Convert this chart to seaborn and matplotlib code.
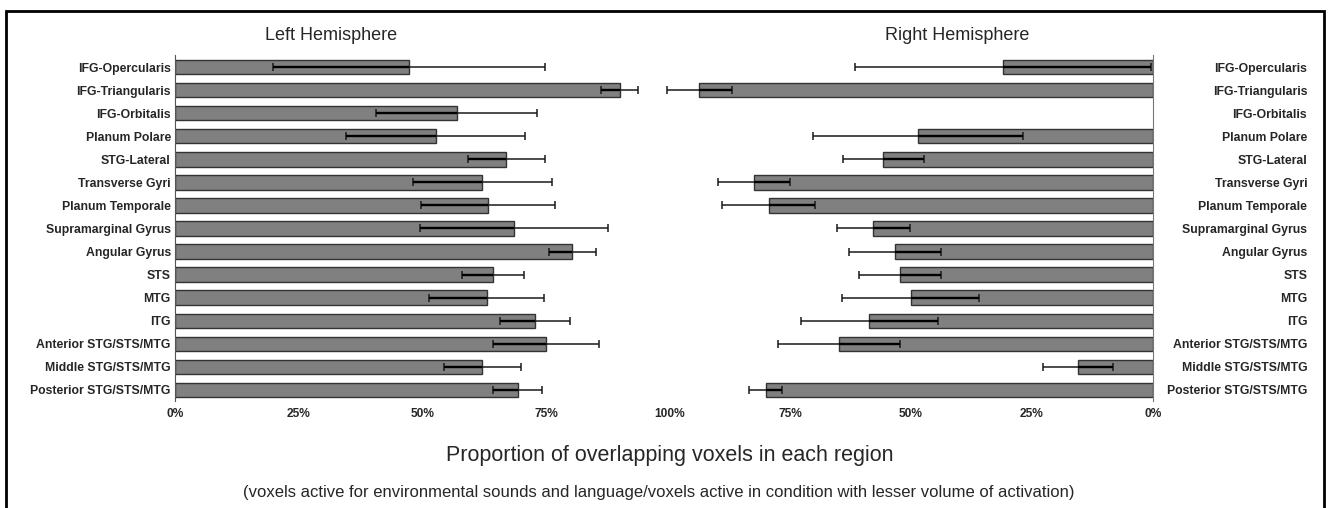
import numpy as np
import pandas as pd
import matplotlib
matplotlib.use('Agg')
import matplotlib.pyplot as plt
import seaborn as sns
from matplotlib.patches import Rectangle

sns.set_style("white")
plt.rcParams['font.family'] = ['Liberation Sans', 'DejaVu Sans']

# data (percent)
regions = ['IFG-Opercularis', 'IFG-Triangularis', 'IFG-Orbitalis', 'Planum Polare',
           'STG-Lateral', 'Transverse Gyri', 'Planum Temporale', 'Supramarginal Gyrus',
           'Angular Gyrus', 'STS', 'MTG', 'ITG', 'Anterior STG/STS/MTG',
           'Middle STG/STS/MTG', 'Posterior STG/STS/MTG']
left_mean = [47.3, 89.8, 56.9, 52.7, 66.9, 62.1, 63.2, 68.5, 80.3, 64.3, 63.0, 72.7, 74.9, 62.1, 69.2]
left_err = [27.5, 3.7, 16.2, 18.1, 7.8, 14.0, 13.5, 19.0, 4.7, 6.3, 11.6, 7.1, 10.7, 7.7, 5.0]
right_mean = [31.0, 93.7, np.nan, 48.6, 55.7, 82.4, 79.4, 57.8, 53.3, 52.3, 50.1, 58.6, 64.8, 15.5, 80.0]
right_err = [30.5, 6.7, np.nan, 21.7, 8.4, 7.5, 9.6, 7.5, 9.5, 8.4, 14.2, 14.1, 12.6, 7.2, 3.4]
ticks = [0, 25, 50, 75, 100]

df_left = pd.DataFrame({'region': regions, 'value': left_mean, 'err': left_err})
df_right = pd.DataFrame({'region': regions, 'value': right_mean, 'err': right_err})

W, H = 1328, 508
fig = plt.figure(figsize=(W / 100, H / 100), dpi=100)
bottom = 1 - 401.5 / H
height = (401.5 - 55.5) / H
ax_l = fig.add_axes([175 / W, bottom, (670 - 175) / W, height])
ax_r = fig.add_axes([669 / W, bottom, (1153 - 669) / W, height])

bar_kw = dict(color='#808080', edgecolor='#333333', linewidth=1.0, width=0.63,
              errorbar=None, order=regions, orient='h', saturation=1)


def draw(ax, df):
    sns.barplot(data=df, x='value', y='region', ax=ax, **bar_kw)
    pos = np.arange(len(regions))
    ok = df['value'].notna().values
    v = df['value'].values[ok]
    e = df['err'].values[ok]
    ax.errorbar(v, pos[ok], xerr=e, fmt='none', ecolor='#1a1a1a',
                elinewidth=1.1, capsize=3.2, capthick=1.1, clip_on=False)
    # darker part of the error bar inside the bar
    ax.hlines(pos[ok], v - e, v, color='black', lw=1.7, clip_on=False)
    ax.set_ylim(len(regions) - 0.5, -0.5)
    ax.set_xlabel('')
    ax.set_ylabel('')
    for s in ax.spines.values():
        s.set_visible(False)
    ax.tick_params(length=0)


draw(ax_l, df_left)
ax_l.set_xlim(0, 100)
ax_l.spines['left'].set_visible(True)
ax_l.spines['left'].set_color('#555555')
ax_l.set_xticks(ticks)
ax_l.set_xticklabels([f'{t}%' for t in ticks], fontsize=8.6, fontweight='bold')
ax_l.set_yticks(range(len(regions)))
ax_l.set_yticklabels(regions, fontsize=8.8, fontweight='bold')
ax_l.tick_params(axis='y', pad=3)
ax_l.tick_params(axis='x', pad=5)

draw(ax_r, df_right)
ax_r.set_xlim(100, 0)
ax_r.spines['right'].set_visible(True)
ax_r.spines['right'].set_color('#777777')
ax_r.set_xticks(ticks[:-1])
ax_r.set_xticklabels([f'{t}%' for t in ticks[:-1]], fontsize=8.6, fontweight='bold')
ax_r.yaxis.tick_right()
ax_r.set_yticks(range(len(regions)))
ax_r.set_yticklabels(regions, fontsize=8.8, fontweight='bold')
for lbl in ax_r.get_yticklabels():
    lbl.set_ha('right')
ax_r.tick_params(axis='y', pad=111)
ax_r.tick_params(axis='x', pad=5)
ax_r.patch.set_alpha(0)

fig.text(331 / W, 1 - 36 / H, 'Left Hemisphere', fontsize=13, ha='center', va='center')
fig.text(957 / W, 1 - 36 / H, 'Right Hemisphere', fontsize=13, ha='center', va='center')
fig.text(670 / W, 1 - 456 / H, 'Proportion of overlapping voxels in each region',
         fontsize=15.5, ha='center', va='center')
fig.text(659 / W, 1 - 492 / H,
         '(voxels active for environmental sounds and language/voxels active in condition with lesser volume of activation)',
         fontsize=12, ha='center', va='center')

fig.add_artist(Rectangle((6 / W, -0.1), (1324 - 6) / W, 1 - 11 / H + 0.1,
                         transform=fig.transFigure, fill=False, lw=2, ec='black'))

plt.savefig('out.png', dpi=100)
